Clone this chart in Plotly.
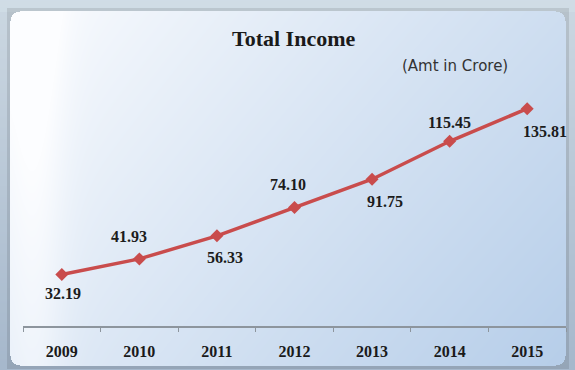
import base64
import struct
import zlib

import numpy as np
import plotly.graph_objects as go

# Data: total income per year (Amt in Crore)
years = ["2009", "2010", "2011", "2012", "2013", "2014", "2015"]
income = [32.19, 41.93, 56.33, 74.10, 91.75, 115.45, 135.81]
title_text = "Total Income"
unit_text = "(Amt in Crore)"

# Label placement relative to each point (pixels; +y is up)
label_dx = [1, -10, 8, -7, 13, 0, 18]
label_dy = [-19, 22, -22, 23, -22, 19, -23]

W, H = 575, 370
ML, MR, MT, MB = 23, 9, 70, 44
PW, PH = W - ML - MR, H - MT - MB


def px_x(px):
    return (px - ML) / PW


def px_y(py):
    return 1 - (py - MT) / PH


def png_uri(arr):
    h, w, _ = arr.shape
    raw = b"".join(b"\x00" + arr[r].tobytes() for r in range(h))

    def chunk(tag, data):
        c = struct.pack(">I", len(data)) + tag + data
        return c + struct.pack(">I", zlib.crc32(tag + data) & 0xFFFFFFFF)

    png = (b"\x89PNG\r\n\x1a\n"
           + chunk(b"IHDR", struct.pack(">IIBBBBB", w, h, 8, 2, 0, 0, 0))
           + chunk(b"IDAT", zlib.compress(raw, 9))
           + chunk(b"IEND", b""))
    return "data:image/png;base64," + base64.b64encode(png).decode()


# Background: grey-blue frame with a rounded, white-to-blue gradient panel
yy, xx = np.mgrid[0:H, 0:W].astype(float)
frame_top = np.array([204, 216, 226])
frame_bot = np.array([166, 184, 204])
fy = (yy / H)[..., None]
img = frame_top * (1 - fy) + frame_bot * fy
img[:12] = img[:12] * 0.6 + np.array([215, 228, 236]) * 0.4

x0, y0, x1, y1, rad = 10, 11, 565, 365, 10
cx = np.clip(xx, x0 + rad, x1 - rad)
cy = np.clip(yy, y0 + rad, y1 - rad)
dist = np.hypot(xx - cx, yy - cy)
inside = ((xx >= x0) & (xx <= x1) & (yy >= y0) & (yy <= y1) & (dist <= rad))

white = np.array([252, 253, 255])
blue = np.array([178, 203, 232])
t = 0.62 * ((xx - x0) / (x1 - x0)) ** 0.9 + 0.32 * ((yy - y0) / (y1 - y0))
t -= 0.18 * np.exp(-((xx - 35) / 30) ** 2)
t = np.clip(t, 0, 1)[..., None]
panel = white * (1 - t) + blue * t
img = np.where(inside[..., None], panel, img)
# soft shadow just outside the panel edge
edge = (~inside) & (xx > x0 - 4) & (xx < x1 + 4) & (yy > y0 - 4) & (yy < y1 + 4)
img = np.where(edge[..., None], img * 0.9, img)
img = np.clip(img, 0, 255).astype(np.uint8)

fig = go.Figure()
fig.add_trace(go.Scatter(
    x=years, y=income, mode="lines+markers",
    line=dict(color="#c94c4c", width=3.5),
    marker=dict(symbol="diamond", size=10, color="#c94c4c"),
    hoverinfo="skip", showlegend=False,
))

annotations = []
for i, (v, dx, dy) in enumerate(zip(income, label_dx, label_dy)):
    annotations.append(dict(
        x=i, y=v, xref="x", yref="y", text=f"<b>{v:.2f}</b>", showarrow=False,
        xanchor="center", yanchor="middle", xshift=dx, yshift=dy,
        font=dict(family="Liberation Serif", size=16, color="#1c1c1c"),
    ))
annotations.append(dict(
    x=px_x(293), y=px_y(38), xref="paper", yref="paper", text=f"<b>{title_text}</b>",
    showarrow=False, xanchor="center", yanchor="middle",
    font=dict(family="Liberation Serif", size=22, color="#1a1a1a"),
))
annotations.append(dict(
    x=px_x(455), y=px_y(66), xref="paper", yref="paper", text=unit_text,
    showarrow=False, xanchor="center", yanchor="middle",
    font=dict(family="DejaVu Sans", size=15, color="#333333"),
))

fig.update_layout(
    width=W, height=H,
    margin=dict(l=ML, r=MR, t=MT, b=MB),
    paper_bgcolor="#b8c7d3",
    plot_bgcolor="rgba(0,0,0,0)",
    annotations=annotations,
    images=[dict(
        source=png_uri(img), xref="paper", yref="paper",
        x=px_x(0), y=px_y(0), sizex=W / PW, sizey=H / PH,
        xanchor="left", yanchor="top", sizing="stretch", layer="below",
    )],
    xaxis=dict(
        type="category", range=[-0.5, 6.5], showgrid=False, zeroline=False,
        showline=True, linecolor="#8d959d", linewidth=1.5,
        ticks="outside", tickson="boundaries", ticklen=4, tickcolor="#8d959d",
        ticklabelstandoff=10,
        tickfont=dict(family="Liberation Serif", size=16, color="#1a1a1a"),
        tickprefix="<b>", ticksuffix="</b>", fixedrange=True,
    ),
    yaxis=dict(range=[0, 160], visible=False, fixedrange=True),
)

fig.write_html("out.html")
